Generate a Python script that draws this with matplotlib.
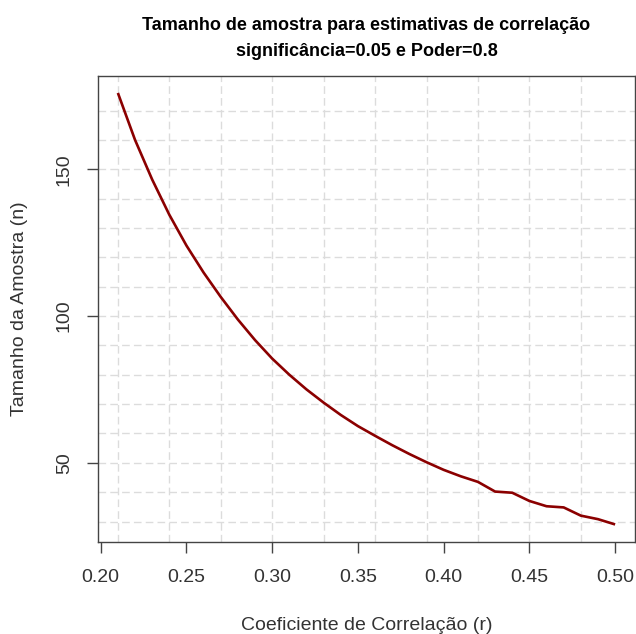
import matplotlib
matplotlib.use("Agg")
import matplotlib.pyplot as plt

# data
r_vals = [0.21, 0.22, 0.23, 0.24, 0.25, 0.26, 0.27, 0.28, 0.29, 0.30,
          0.31, 0.32, 0.33, 0.34, 0.35, 0.36, 0.37, 0.38, 0.39, 0.40,
          0.41, 0.42, 0.43, 0.44, 0.45, 0.46, 0.47, 0.48, 0.49, 0.50]
n_vals = [176, 160, 146.5, 134.5, 124, 114.8, 106.5, 98.8, 91.8, 85.5,
          80, 75, 70.5, 66.3, 62.5, 59.2, 56, 53, 50.2, 47.6,
          45.4, 43.5, 40.2, 39.8, 37, 35.2, 34.8, 32, 30.8, 29]
x_ticks = [0.20, 0.25, 0.30, 0.35, 0.40, 0.45, 0.50]
x_tick_labels = ["0.20", "0.25", "0.30", "0.35", "0.40", "0.45", "0.50"]
y_ticks = [50, 100, 150]
x_grid = [0.21, 0.24, 0.27, 0.30, 0.33, 0.36, 0.39, 0.42, 0.45, 0.48]
y_grid = [30, 40, 50, 60, 70, 80, 90, 100, 110, 120, 130, 140, 150, 160, 170]

title_lines = ["Tamanho de amostra para estimativas de correlação",
               "significância=0.05 e Poder=0.8"]
xlabel = "Coeficiente de Correlação (r)"
ylabel = "Tamanho da Amostra (n)"

plt.rcParams['font.family'] = ['Liberation Sans', 'DejaVu Sans']

fig = plt.figure(figsize=(6.36, 6.34), dpi=100)
ax = fig.add_axes([98/636, 1 - 541.7/634, (635-98)/636, (541.7-75.7)/634])

# R-style 4% range extension
xr = max(r_vals) - min(r_vals)
yr = max(n_vals) - min(n_vals)
ax.set_xlim(min(r_vals) - 0.04*xr, max(r_vals) + 0.04*xr)
ax.set_ylim(min(n_vals) - 0.04*yr, max(n_vals) + 0.04*yr)

grid_kw = dict(color="#dcdcdc", lw=1.0, linestyle=(0, (5.5, 3.0)), zorder=1)
for gx in x_grid:
    ax.axvline(gx, **grid_kw)
for gy in y_grid:
    ax.axhline(gy, **grid_kw)

ax.plot(r_vals, n_vals, color="#8B0000", lw=1.9, zorder=3,
        solid_capstyle="butt", solid_joinstyle="round")

for s in ax.spines.values():
    s.set_color("#444444")
    s.set_linewidth(1.0)

ax.set_xticks(x_ticks)
ax.set_xticklabels(x_tick_labels)
ax.set_yticks(y_ticks)
ax.set_yticklabels([str(v) for v in y_ticks], rotation=90, va="center")
ax.tick_params(axis="both", direction="out", length=8, width=1.0, color="#444444",
               labelsize=14, labelcolor="#333333")
ax.tick_params(axis="x", pad=12)
ax.tick_params(axis="y", pad=10)

ax.set_xlabel(xlabel, fontsize=14, color="#333333", labelpad=22)
ax.set_ylabel(ylabel, fontsize=14, color="#333333", labelpad=20)

cx = (98 + 635) / 2 / 636
fig.text(cx, 1 - 26/634, title_lines[0], ha="center", va="center",
         fontsize=13, fontweight="bold", color="black")
fig.text(cx, 1 - 51/634, title_lines[1], ha="center", va="center",
         fontsize=13, fontweight="bold", color="black")

fig.savefig("out.png", dpi=100)
